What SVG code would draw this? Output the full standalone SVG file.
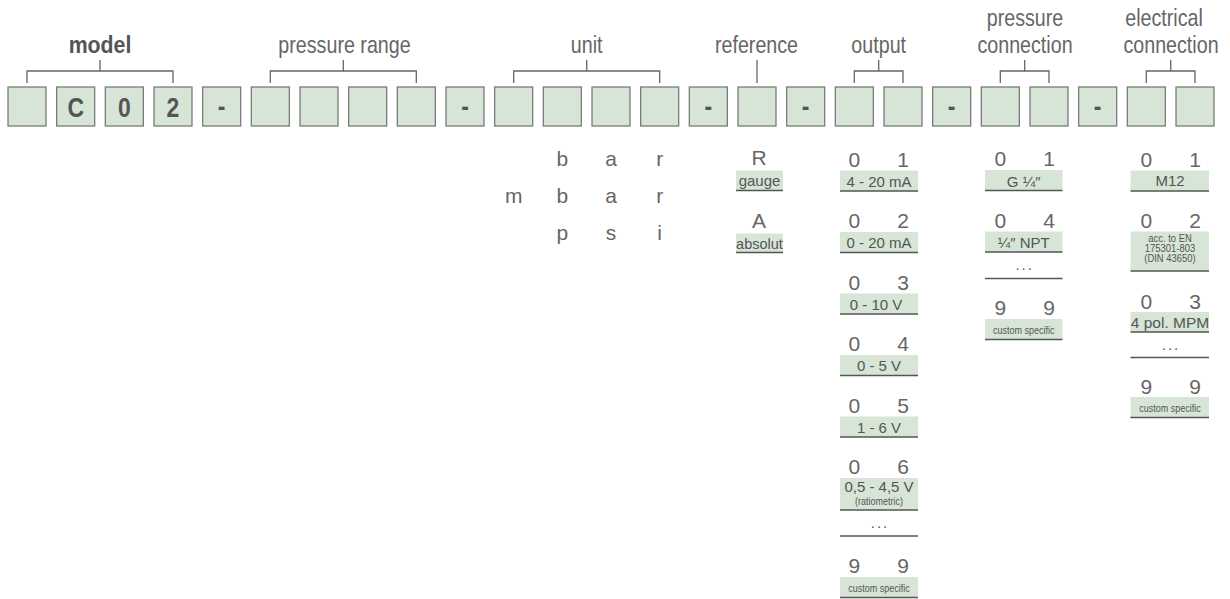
<svg xmlns="http://www.w3.org/2000/svg" width="1230" height="599" viewBox="0 0 1230 599">
<style>
.bg{fill:#ffffff}
.box{fill:#d6e5d6;stroke:#7a7a7a;stroke-width:1.3}
.bl{font-family:"Liberation Sans",Arial,sans-serif;font-weight:bold;font-size:28px;fill:#555;text-anchor:middle}
.hd{font-family:"Liberation Sans",Arial,sans-serif;font-size:24px;fill:#666;text-anchor:middle}
.hdb{font-family:"Liberation Sans",Arial,sans-serif;font-weight:bold;font-size:24.5px;fill:#555;text-anchor:middle}
.br{fill:none;stroke:#666;stroke-width:1.3}
.dg{font-family:"Liberation Sans",Arial,sans-serif;font-size:21px;fill:#666;text-anchor:middle}
.lb{fill:#d6e5d6}
.ul{stroke:#555;stroke-width:1.6}
.lt{font-family:"Liberation Sans",Arial,sans-serif;font-size:15px;fill:#555;text-anchor:middle}
.dots{font-family:"Liberation Sans",Arial,sans-serif;font-size:15px;fill:#555;text-anchor:middle;letter-spacing:2px}
.sm{font-family:"Liberation Sans",Arial,sans-serif;font-size:11px;fill:#555;text-anchor:middle}
</style>
<rect class="bg" x="0" y="0" width="1230" height="599"/>

<!-- header labels -->
<g id="hdr-model"><text class="hdb" transform="translate(100 52.5) scale(0.87 1)">model</text></g>
<g id="hdr-pressure-range"><text class="hd" transform="translate(344.5 52.5) scale(0.82 1)">pressure range</text></g>
<g id="hdr-unit"><text class="hd" transform="translate(586.7 52.5) scale(0.82 1)">unit</text></g>
<g id="hdr-reference"><text class="hd" transform="translate(756.5 52.5) scale(0.82 1)">reference</text></g>
<g id="hdr-output"><text class="hd" transform="translate(878.7 52.5) scale(0.82 1)">output</text></g>
<g id="hdr-pressure-connection"><text class="hd" transform="translate(1025 25.5) scale(0.82 1)">pressure</text><text class="hd" transform="translate(1025 52.5) scale(0.82 1)">connection</text></g>
<g id="hdr-electrical-connection"><text class="hd" transform="translate(1164 25.5) scale(0.82 1)">electrical</text><text class="hd" transform="translate(1171 52.5) scale(0.82 1)">connection</text></g>

<!-- connectors (brackets) -->
<g id="connectors">
<path class="br" d="M100 60V71M27 83V71H173V83"/>
<path class="br" d="M343.3 60V71M270.3 83V71H416.3V83"/>
<path class="br" d="M586.7 60V71M513.7 83V71H659.7V83"/>
<path class="br" d="M757 60V83"/>
<path class="br" d="M878.7 60V71M854.3 83V71H903V83"/>
<path class="br" d="M1024.7 60V71M1000.3 83V71H1049V83"/>
<path class="br" d="M1170.7 60V71M1146.3 83V71H1195V83"/>
</g>

<!-- code boxes -->
<g id="box-0"><rect class="box" x="8" y="87" width="38" height="39"/></g>
<g id="box-1"><rect class="box" x="56.67" y="87" width="38" height="39"/><text class="bl" transform="translate(75.67 117) scale(0.82 1)">C</text></g>
<g id="box-2"><rect class="box" x="105.33" y="87" width="38" height="39"/><text class="bl" transform="translate(124.33 117) scale(0.82 1)">0</text></g>
<g id="box-3"><rect class="box" x="154" y="87" width="38" height="39"/><text class="bl" transform="translate(173 117) scale(0.82 1)">2</text></g>
<g id="box-4"><rect class="box" x="202.67" y="87" width="38" height="39"/><text class="bl" transform="translate(221.67 116) scale(0.82 1)">-</text></g>
<g id="box-5"><rect class="box" x="251.33" y="87" width="38" height="39"/></g>
<g id="box-6"><rect class="box" x="300" y="87" width="38" height="39"/></g>
<g id="box-7"><rect class="box" x="348.67" y="87" width="38" height="39"/></g>
<g id="box-8"><rect class="box" x="397.33" y="87" width="38" height="39"/></g>
<g id="box-9"><rect class="box" x="446" y="87" width="38" height="39"/><text class="bl" transform="translate(465 116) scale(0.82 1)">-</text></g>
<g id="box-10"><rect class="box" x="494.67" y="87" width="38" height="39"/></g>
<g id="box-11"><rect class="box" x="543.33" y="87" width="38" height="39"/></g>
<g id="box-12"><rect class="box" x="592" y="87" width="38" height="39"/></g>
<g id="box-13"><rect class="box" x="640.67" y="87" width="38" height="39"/></g>
<g id="box-14"><rect class="box" x="689.33" y="87" width="38" height="39"/><text class="bl" transform="translate(708.33 116) scale(0.82 1)">-</text></g>
<g id="box-15"><rect class="box" x="738" y="87" width="38" height="39"/></g>
<g id="box-16"><rect class="box" x="786.67" y="87" width="38" height="39"/><text class="bl" transform="translate(805.67 116) scale(0.82 1)">-</text></g>
<g id="box-17"><rect class="box" x="835.33" y="87" width="38" height="39"/></g>
<g id="box-18"><rect class="box" x="884" y="87" width="38" height="39"/></g>
<g id="box-19"><rect class="box" x="932.67" y="87" width="38" height="39"/><text class="bl" transform="translate(951.67 116) scale(0.82 1)">-</text></g>
<g id="box-20"><rect class="box" x="981.33" y="87" width="38" height="39"/></g>
<g id="box-21"><rect class="box" x="1030" y="87" width="38" height="39"/></g>
<g id="box-22"><rect class="box" x="1078.67" y="87" width="38" height="39"/><text class="bl" transform="translate(1097.67 116) scale(0.82 1)">-</text></g>
<g id="box-23"><rect class="box" x="1127.33" y="87" width="38" height="39"/></g>
<g id="box-24"><rect class="box" x="1176" y="87" width="38" height="39"/></g>

<!-- unit options -->
<g id="unit-bar"><text class="dg" x="562.3" y="166">b</text><text class="dg" x="611" y="166">a</text><text class="dg" x="659.7" y="166">r</text></g>
<g id="unit-mbar"><text class="dg" x="513.7" y="203">m</text><text class="dg" x="562.3" y="203">b</text><text class="dg" x="611" y="203">a</text><text class="dg" x="659.7" y="203">r</text></g>
<g id="unit-psi"><text class="dg" x="562.3" y="240">p</text><text class="dg" x="611" y="240">s</text><text class="dg" x="659.7" y="240">i</text></g>

<!-- reference options -->
<g id="ref-R"><text class="dg" x="759" y="165">R</text><rect class="lb" x="736" y="170.5" width="47" height="20"/><line class="ul" x1="736" y1="190.5" x2="783" y2="190.5"/><text class="lt" x="759.5" y="186">gauge</text></g>
<g id="ref-A"><text class="dg" x="759" y="228">A</text><rect class="lb" x="736" y="233.5" width="47" height="19"/><line class="ul" x1="736" y1="252.5" x2="783" y2="252.5"/><text class="lt" x="759.5" y="249" style="font-size:14.5px">absolut</text></g>

<!-- output options -->
<g id="out-01"><text class="dg" x="854.3" y="166.5">0</text><text class="dg" x="903" y="166.5">1</text><rect class="lb" x="840" y="170.5" width="78" height="20.5"/><line class="ul" x1="840" y1="191" x2="918" y2="191"/><text class="lt" x="879" y="186.5">4 - 20 mA</text></g>
<g id="out-02"><text class="dg" x="854.3" y="228">0</text><text class="dg" x="903" y="228">2</text><rect class="lb" x="840" y="232" width="78" height="20.5"/><line class="ul" x1="840" y1="252.5" x2="918" y2="252.5"/><text class="lt" x="879" y="248">0 - 20 mA</text></g>
<g id="out-03"><text class="dg" x="854.3" y="289.5">0</text><text class="dg" x="903" y="289.5">3</text><rect class="lb" x="840" y="293.5" width="78" height="20.5"/><line class="ul" x1="840" y1="314" x2="918" y2="314"/><text class="lt" x="876" y="309.5">0 - 10 V</text></g>
<g id="out-04"><text class="dg" x="854.3" y="351">0</text><text class="dg" x="903" y="351">4</text><rect class="lb" x="840" y="355" width="78" height="20.5"/><line class="ul" x1="840" y1="375.5" x2="918" y2="375.5"/><text class="lt" x="879" y="371">0 - 5 V</text></g>
<g id="out-05"><text class="dg" x="854.3" y="412.5">0</text><text class="dg" x="903" y="412.5">5</text><rect class="lb" x="840" y="416.5" width="78" height="20.5"/><line class="ul" x1="840" y1="437" x2="918" y2="437"/><text class="lt" x="879" y="432.5">1 - 6 V</text></g>
<g id="out-06"><text class="dg" x="854.3" y="474">0</text><text class="dg" x="903" y="474">6</text><rect class="lb" x="840" y="478" width="78" height="32"/><line class="ul" x1="840" y1="510" x2="918" y2="510"/><text class="lt" x="879" y="492">0,5 - 4,5 V</text><text class="sm" transform="translate(879 504.5) scale(0.82 1)">(ratiometric)</text></g>
<g id="out-more"><text class="dots" x="880" y="528">...</text><line class="ul" x1="840" y1="536" x2="918" y2="536"/></g>
<g id="out-99"><text class="dg" x="854.3" y="573">9</text><text class="dg" x="903" y="573">9</text><rect class="lb" x="840" y="577" width="78" height="20.5"/><line class="ul" x1="840" y1="597.5" x2="918" y2="597.5"/><text class="sm" transform="translate(879 592) scale(0.82 1)">custom specific</text></g>

<!-- pressure connection options -->
<g id="pc-01"><text class="dg" x="1000.3" y="166">0</text><text class="dg" x="1049" y="166">1</text><rect class="lb" x="985" y="170" width="77.5" height="20.5"/><line class="ul" x1="985" y1="190.5" x2="1062.5" y2="190.5"/><text class="lt" x="1023.7" y="186.5">G ¼″</text></g>
<g id="pc-04"><text class="dg" x="1000.3" y="227.5">0</text><text class="dg" x="1049" y="227.5">4</text><rect class="lb" x="985" y="231.5" width="77.5" height="20.5"/><line class="ul" x1="985" y1="252" x2="1062.5" y2="252"/><text class="lt" x="1023.7" y="247.5">¼″ NPT</text></g>
<g id="pc-more"><text class="dots" x="1024.7" y="270">...</text><line class="ul" x1="985" y1="278.5" x2="1062.5" y2="278.5"/></g>
<g id="pc-99"><text class="dg" x="1000.3" y="315">9</text><text class="dg" x="1049" y="315">9</text><rect class="lb" x="985" y="319" width="77.5" height="20.5"/><line class="ul" x1="985" y1="339.5" x2="1062.5" y2="339.5"/><text class="sm" transform="translate(1023.7 334) scale(0.82 1)">custom specific</text></g>

<!-- electrical connection options -->
<g id="ec-01"><text class="dg" x="1146.3" y="166.5">0</text><text class="dg" x="1195" y="166.5">1</text><rect class="lb" x="1130.5" y="170.5" width="78.5" height="20.5"/><line class="ul" x1="1130.5" y1="191" x2="1209" y2="191"/><text class="lt" x="1170" y="186">M12</text></g>
<g id="ec-02"><text class="dg" x="1146.3" y="227.5">0</text><text class="dg" x="1195" y="227.5">2</text><rect class="lb" x="1130.5" y="231.5" width="78.5" height="39.5"/><line class="ul" x1="1130.5" y1="271" x2="1209" y2="271"/><text class="sm" transform="translate(1170 242) scale(0.86 1)">acc. to EN</text><text class="sm" transform="translate(1170 252) scale(0.86 1)">175301-803</text><text class="sm" transform="translate(1170 262) scale(0.86 1)">(DIN 43650)</text></g>
<g id="ec-03"><text class="dg" x="1146.3" y="308.5">0</text><text class="dg" x="1195" y="308.5">3</text><rect class="lb" x="1130.5" y="312" width="78.5" height="20"/><line class="ul" x1="1130.5" y1="332" x2="1209" y2="332"/><text class="lt" x="1170" y="328" style="font-size:15.5px">4 pol. MPM</text></g>
<g id="ec-more"><text class="dots" x="1171" y="349.5">...</text><line class="ul" x1="1130.5" y1="357.5" x2="1209" y2="357.5"/></g>
<g id="ec-99"><text class="dg" x="1146.3" y="393.5">9</text><text class="dg" x="1195" y="393.5">9</text><rect class="lb" x="1130.5" y="397" width="78.5" height="20.5"/><line class="ul" x1="1130.5" y1="417.5" x2="1209" y2="417.5"/><text class="sm" transform="translate(1170 411.5) scale(0.82 1)">custom specific</text></g>
</svg>
